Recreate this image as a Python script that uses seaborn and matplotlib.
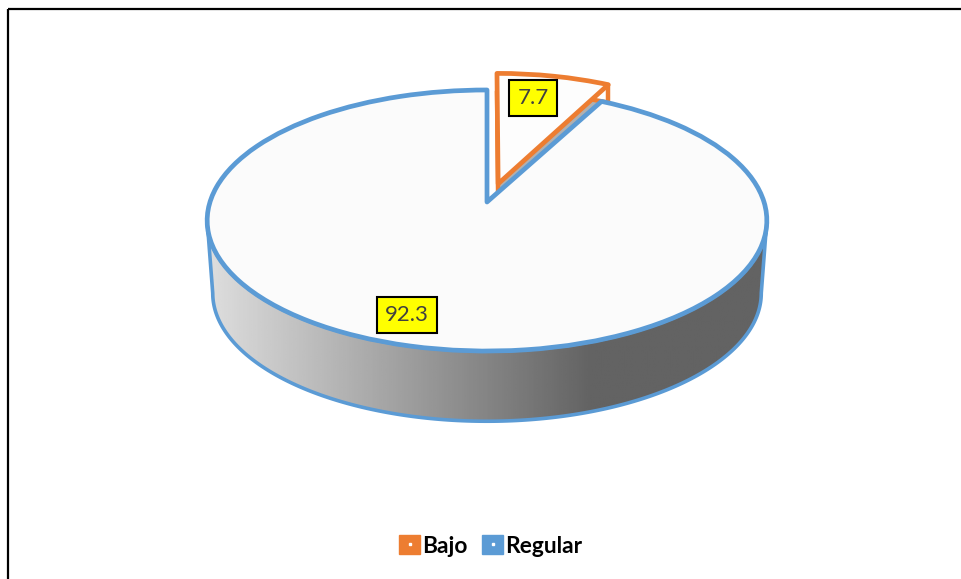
import numpy as np
import matplotlib
matplotlib.use("Agg")
import matplotlib.pyplot as plt
import seaborn as sns
from matplotlib.lines import Line2D
from matplotlib.legend_handler import HandlerTuple
from matplotlib.patches import Patch, Polygon
from matplotlib.transforms import Transform

# Datos del grafico
categorias = ["Bajo", "Regular"]
valores = [7.7, 92.3]
separacion = [0.15, 0]
pos_etiquetas = [(533, 98), (407, 315)]

sns.set_theme(style="white")
plt.rcParams["font.family"] = ["Lato", "DejaVu Sans"]
colores = sns.color_palette(["#ED7D31", "#5B9BD5"])


class Inclinacion(Transform):
    """Proyecta el circulo unitario del pie a la elipse en perspectiva (pixeles)."""
    input_dims = 2
    output_dims = 2
    is_separable = False
    has_inverse = False

    def __init__(self, cx, cy, rx, ry, k=0.1418):
        super().__init__()
        self.cx, self.cy, self.rx, self.ry, self.k = cx, cy, rx, ry, k

    def transform_non_affine(self, values):
        values = np.asarray(values, dtype=float)
        d = 1 + self.k * values[:, 1]
        return np.column_stack([self.cx + self.rx * values[:, 0] / d,
                                self.cy - self.ry * values[:, 1] / d])


fig = plt.figure(figsize=(9.61, 5.79), dpi=100, facecolor="white")
ax = fig.add_axes([0, 0, 1, 1])

tapa = Inclinacion(487, 202, 277, 127.9)
tapa_bajo = Inclinacion(488.5, 202.5, 274, 131)
base = Inclinacion(487, 275, 271.5, 125.5)
grosor = Inclinacion(488.5, 220.5, 274, 131)  # canto de la porcion separada

# Pared lateral con degradado, del extremo izquierdo al derecho pasando por abajo
t0 = np.arcsin(tapa.k)
t = np.linspace(np.pi + t0, 2 * np.pi - t0, 200)
circulo = np.column_stack([np.cos(t), np.sin(t)])
arco_sup = tapa.transform(circulo)
arco_inf = base.transform(circulo)
contorno = np.vstack([arco_sup, arco_inf[::-1]])

xs = np.linspace(200, 775, 300)
grises = np.interp(xs, [207, 590, 775], [0.87, 0.39, 0.39])
img = ax.imshow(grises[np.newaxis, :], cmap="gray", vmin=0, vmax=1, aspect="auto",
                extent=(200, 775, 430, 210), zorder=1)
img.set_clip_path(Polygon(contorno, closed=True, transform=ax.transData))
ax.add_patch(Polygon(contorno, closed=True, facecolor="none", edgecolor=colores[1],
                     lw=2.6, joinstyle="round", zorder=2))

# Canto de la porcion separada
canto, _ = ax.pie(valores, explode=separacion, startangle=90, counterclock=False,
                  colors=["#b0b0b0", "none"],
                  wedgeprops={"edgecolor": colores[0], "linewidth": 3.2, "zorder": 3,
                              "joinstyle": "round"})
canto[0].set_transform(grosor + ax.transData)
canto[1].set_visible(False)

# Arista vertical en la esquina de la porcion separada
ang_medio = np.deg2rad(90 - 360 * valores[0] / 200)
ang_fin = np.deg2rad(90 - 360 * valores[0] / 100)
esquina = np.array([[separacion[0] * np.cos(ang_medio) + np.cos(ang_fin),
                     separacion[0] * np.sin(ang_medio) + np.sin(ang_fin)]])
arista = np.vstack([tapa_bajo.transform(esquina), grosor.transform(esquina)])
ax.plot(arista[:, 0], arista[:, 1], color=colores[0], lw=3.2, zorder=3)

# Tapa del pie
wedges, _ = ax.pie(valores, explode=separacion, startangle=90, counterclock=False,
                   colors=["#fdfdfd", "#fbfbfb"],
                   wedgeprops={"linewidth": 3.4, "joinstyle": "round"})
for w, c, z, tr in zip(wedges, colores, [4, 5], [tapa_bajo, tapa]):
    w.set_transform(tr + ax.transData)
    w.set_edgecolor(c)
    w.set_zorder(z)

# Etiquetas de valor
for val, (x, y) in zip(valores, pos_etiquetas):
    ax.text(x, y, f"{val}", ha="center", va="center", fontsize=16, color="#404040",
            zorder=6, bbox=dict(boxstyle="square,pad=0.36", fc="#FFFF00", ec="black", lw=1.5))

# Marco superior e izquierdo
ax.plot([7.5, 961], [8.5, 8.5], color="black", lw=1.6, zorder=7, solid_capstyle="butt")
ax.plot([7.5, 7.5], [8.5, 579], color="black", lw=1.6, zorder=7, solid_capstyle="butt")

# El pie fija aspecto y limites, se reemplazan por pixeles
ax.set_aspect("auto")
ax.set_xlim(0, 961)
ax.set_ylim(579, 0)
ax.set_xticks([])
ax.set_yticks([])

handles = [(Patch(facecolor=c, edgecolor=c),
            Line2D([], [], marker="s", ms=2, color="white", ls="none")) for c in colores]
ax.legend(handles, categorias, handler_map={tuple: HandlerTuple(ndivide=1, pad=0)},
          loc="center", bbox_to_anchor=(490.5 / 961, 1 - 546 / 579), ncols=2, frameon=False,
          prop={"family": "Lato", "weight": "bold", "size": 16.4},
          handlelength=0.92, handleheight=0.92, handletextpad=0.08, columnspacing=0.65,
          labelcolor="black")

fig.savefig("out.png", dpi=100)
